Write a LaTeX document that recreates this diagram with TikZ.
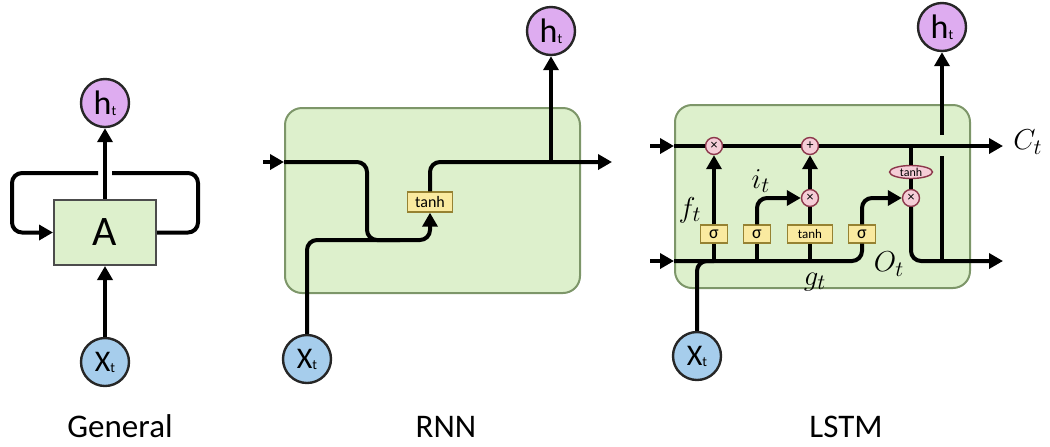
\documentclass[tikz,border=0pt]{standalone}
\usepackage{fontspec}
\setmainfont{Carlito}
\usetikzlibrary{arrows.meta,shapes.geometric}
\definecolor{cellgreen}{RGB}{221,240,204}
\definecolor{celledge}{RGB}{125,150,105}
\definecolor{hpurple}{RGB}{222,172,240}
\definecolor{xblue}{RGB}{166,205,236}
\definecolor{gateyellow}{RGB}{250,234,160}
\definecolor{gateedge}{RGB}{150,130,50}
\definecolor{oppink}{RGB}{245,205,215}
\definecolor{opedge}{RGB}{140,55,75}
\newcommand\tsub[1]{\raisebox{-0.5pt}{\fontsize{7}{7}\selectfont #1}}
\tikzset{
 cell/.style={rectangle,rounded corners=8.5pt,draw=celledge,line width=1pt,fill=cellgreen},
 abox/.style={rectangle,draw=black!70,line width=1pt,fill=cellgreen,minimum width=51pt,minimum height=32.5pt,font=\fontsize{21}{21}\selectfont},
 hnode/.style={circle,draw=black!85,line width=1.2pt,fill=hpurple,minimum size=24pt,inner sep=0pt,font=\fontsize{17}{17}\selectfont},
 xnode/.style={circle,draw=black!85,line width=1.2pt,fill=xblue,minimum size=24pt,inner sep=0pt,font=\fontsize{15}{15}\selectfont},
 gate/.style={rectangle,draw=gateedge,line width=0.7pt,fill=gateyellow,minimum width=13.5pt,minimum height=9pt,inner sep=0pt,font=\fontsize{9}{9}\selectfont},
 op/.style={circle,draw=opedge,line width=0.7pt,fill=oppink,minimum size=8.5pt,inner sep=0pt,font=\fontsize{7}{7}\selectfont},
 opell/.style={ellipse,draw=opedge,line width=0.7pt,fill=oppink,minimum width=21.5pt,minimum height=6.5pt,inner sep=0pt,font=\fontsize{6}{6}\selectfont},
 wire/.style={line width=2pt,draw=black},
 arrow/.style={wire,-{Triangle[length=7pt,width=7.5pt]}},
 title/.style={font=\fontsize{16.5}{18}\selectfont},
 mlabel/.style={font=\fontsize{15}{17}\selectfont}}
\begin{document}
\begin{tikzpicture}[x=0.5pt,y=-0.5pt]
\useasboundingbox (0,0) rectangle (1050,446);
% General
\node[abox] (ga) at (105,232.5) {A};
\node[hnode] (gh) at (105,103) {h\tsub{t}};
\node[xnode] (gx) at (105,362) {X\tsub{t}};
\coordinate (gapr) at (112,173);
\coordinate (gapl) at (98,173);
\draw[arrow] (gx) -- (ga);
\draw[arrow] (ga) -- (gh);
\draw[wire,rounded corners=5pt] (ga.east) -- (198,232.5) -- (198,173) -- (gapr);
\draw[arrow,rounded corners=5pt] (gapl) -- (12,173) -- (12,232.5) -- (ga.west);
\node[title] (tgen) at (120,426) {General};
% RNN
\node[cell,minimum width=147.5pt,minimum height=92.5pt] (rnn) at (432.5,200.5) {};
\node[gate,minimum width=22.5pt,minimum height=10pt,font=\fontsize{8}{8}\selectfont] (rtanh) at (430,202) {tanh};
\node[hnode] (rh) at (551,31) {h\tsub{t}};
\node[xnode] (rx) at (307,359) {X\tsub{t}};
\coordinate (rin) at (263,162);
\coordinate (rout) at (612,162);
\coordinate (rjoin) at (400,240);
\draw[arrow] (rin) -- (rin -| rnn.west);
\draw[wire,rounded corners=5pt] (rin -| rnn.west) -- (367,162) -- (367,240) -- (rjoin);
\draw[arrow,rounded corners=5pt] (rx) |- (rjoin) -| (rtanh);
\draw[arrow,rounded corners=5pt] (rtanh) |- (rout);
\draw[arrow] (rh |- rout) -- (rh);
\node[title] (trnn) at (446,427) {RNN};
% LSTM
\node[cell,minimum width=147.5pt,minimum height=91.5pt] (lstm) at (822.5,196.5) {};
\node[op] (mf) at (714,146) {×};
\node[op] (pc) at (810,146) {+};
\node[op] (mi) at (810,198) {×};
\node[op] (mo) at (911,198) {×};
\node[gate] (sf) at (714,234) {σ};
\node[gate] (si) at (757,234) {σ};
\node[gate,minimum width=22.5pt,font=\fontsize{6.5}{6.5}\selectfont] (tg) at (810,234) {tanh};
\node[gate] (so) at (862,234) {σ};
\node[opell] (tc) at (911,172) {tanh};
\node[hnode] (lh) at (942,27) {h\tsub{t}};
\node[xnode] (lx) at (697,356) {X\tsub{t}};
\coordinate (cin) at (650,146);
\coordinate (cout) at (1003,146);
\coordinate (hin) at (650,261);
\coordinate (hout) at (1003,261);
\coordinate (gapb) at (942,156);
\coordinate (gapt) at (942,135);
\draw[arrow] (cin) -- (cin -| lstm.west);
\draw[wire] (cin -| lstm.west) -- (mf);
\draw[wire] (mf) -- (pc);
\draw[arrow] (pc) -- (cout);
\draw[arrow] (hin) -- (hin -| lstm.west);
\draw[wire,rounded corners=5pt] (hin -| lstm.west) -| (so);
\draw[wire,rounded corners=5pt] (lx) |- (sf |- hin);
\draw[wire] (sf |- hin) -- (sf);
\draw[wire] (si |- hin) -- (si);
\draw[wire] (tg |- hin) -- (tg);
\draw[arrow] (sf) -- (mf);
\draw[arrow,rounded corners=5pt] (si) |- (mi);
\draw[wire] (tg) -- (mi);
\draw[arrow] (mi) -- (pc);
\draw[arrow,rounded corners=5pt] (so) |- (mo);
\draw[wire] (tc |- cout) -- (tc);
\draw[wire] (tc) -- (mo);
\draw[arrow,rounded corners=5pt] (mo) |- (hout);
\draw[wire] (lh |- hout) -- (gapb);
\draw[arrow] (gapt) -- (lh);
\node[mlabel] (ft) at (690,210) {$f_t$};
\node[mlabel] (it) at (761,181) {$i_t$};
\node[mlabel] (gt) at (815,282) {$g_t$};
\node[mlabel] (ot) at (889,264) {$O_t$};
\node[mlabel] (ct) at (1028,142) {$C_t$};
\node[title] (tlstm) at (846,427) {LSTM};
\end{tikzpicture}
\end{document}
